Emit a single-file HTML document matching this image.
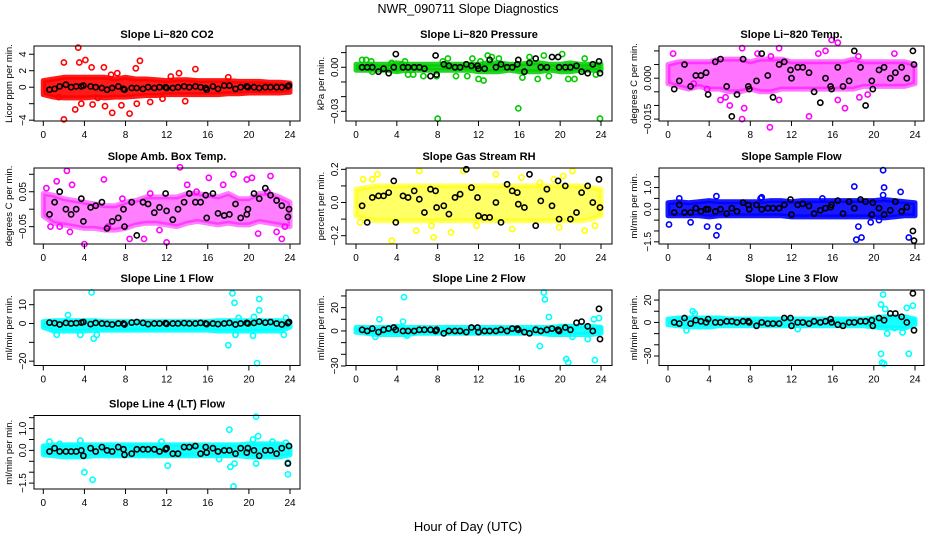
<!DOCTYPE html>
<html><head><meta charset="utf-8">
<style>
html,body{margin:0;padding:0;background:#fff;}
svg{display:block;font-family:"Liberation Sans",sans-serif;}
</style></head>
<body>
<svg id="chart" width="936" height="540" viewBox="0 0 936 540">
<text x="468" y="13" text-anchor="middle" font-size="12.5">NWR_090711  Slope Diagnostics</text>
<text x="468" y="531" text-anchor="middle" font-size="13">Hour of Day (UTC)</text>
</svg>
<script>
// shared x positions for black (hourly summary) points
const blackX = [0.6,1.1,1.6,2.2,2.7,3.2,3.7,3.9,4.6,5.1,5.7,6.2,6.7,7.3,7.8,7.9,8.6,9.1,9.7,10.2,10.8,11.3,11.9,12.0,12.6,13.1,13.7,14.2,14.8,15.3,15.8,15.9,16.5,17.0,17.6,18.1,18.7,19.2,19.8,19.9,20.5,21.0,21.6,22.1,22.7,23.2,23.8,23.9];
const hours = [0,1,2,3,4,5,6,7,8,9,10,11,12,13,14,15,16,17,18,19,20,21,22,23,24];
const xTicks = [0,4,8,12,16,20,24];

const co2Black = [-0.3,-0.2,0.1,0.3,0.0,0.1,0.1,0.2,0.1,0.0,-0.1,-0.3,-0.1,0.1,-0.2,-0.3,-0.1,-0.1,-0.2,0.0,-0.1,0.0,0.0,-0.1,-0.1,0.0,0.1,0.0,0.1,0.0,-0.1,-0.3,0.1,-0.2,0.2,0.2,-0.2,0.0,0.1,0.0,0.0,-0.1,0.0,0.0,0.0,0.0,0.1,0.2];
const co2Hi = [0.8,1.0,1.2,1.2,1.2,1.2,1.2,1.0,1.2,1.0,1.0,0.9,0.8,0.9,0.9,0.8,0.8,0.8,0.8,0.7,0.7,0.7,0.6,0.6,0.5];
const co2Lo = [-0.9,-1.2,-1.3,-1.3,-1.3,-1.2,-1.3,-1.2,-1.2,-1.1,-1.0,-1.0,-0.9,-0.9,-0.9,-0.9,-0.9,-0.9,-0.8,-0.8,-0.7,-0.7,-0.7,-0.7,-0.6];
const co2Out = [[2,3],[3.4,4.8],[3.5,3],[4.1,3.3],[4.7,2.4],[5.9,2.4],[9.4,3.2],[9,2.3],[14.8,2.2],[13.2,1.7],[2,-3.9],[3.1,-2.7],[3.7,-2],[6,-2.3],[6.7,-3.1],[7.6,-2.2],[8.4,-3.2],[9.1,-2],[10.4,-1.8],[13.8,-1.7],[4.8,-2.1],[11.6,-1.4],[1.5,-1.2],[5.3,-1.3],[7.2,1.7],[6.6,1.5],[12.4,1.3],[18,1.2]];

const presBlack = [0,0,0,-0.003,-0.001,-0.004,0,0.009,0,0,0,0,-0.001,-0.006,0.008,-0.005,0.002,0.001,0,0,0.002,0.001,0.001,-0.001,-0.001,0.005,0,0.002,0,0,0.002,0.005,-0.003,0.003,0.006,0,0,0.007,0.007,0,0,0,0.001,-0.003,-0.004,0.002,0.004,-0.004];
const presHi = [0.002,0.002,0.002,0.002,0.003,0.002,0.002,0.002,0.002,0.002,0.002,0.002,0.002,0.003,0.003,0.002,0.002,0.003,0.003,0.002,0.002,0.003,0.002,0.002,0.002];
const presLo = [-0.002,-0.002,-0.002,-0.002,-0.003,-0.002,-0.002,-0.002,-0.002,-0.002,-0.002,-0.002,-0.003,-0.003,-0.003,-0.002,-0.003,-0.003,-0.003,-0.002,-0.003,-0.003,-0.002,-0.002,-0.002];
const presOut = [[0.6,0.005],[1,0.005],[1.5,0.004],[3.5,0.003],[4.5,0.002],[5.1,-0.005],[5.6,-0.005],[6.6,-0.006],[8,-0.035],[8.5,0.004],[9,0.006],[9.8,-0.006],[10.9,-0.006],[11.4,0.006],[12,-0.008],[12.5,-0.009],[12.9,0.008],[13.3,0.007],[14,0.006],[15.9,-0.028],[16.3,-0.007],[17,0.007],[17.8,-0.008],[18.4,0.008],[18.9,-0.006],[20.2,0.009],[20.8,-0.008],[21.4,-0.008],[22.4,0.006],[23.5,-0.005],[23.9,-0.035],[1.6,-0.003],[4.8,0.004],[7.9,-0.006],[12.2,0.004]];

const tempBlack = [-0.004,-0.001,0.005,-0.003,0.001,0.001,0.002,-0.006,0.006,0.007,-0.003,-0.014,-0.006,0.007,-0.003,-0.004,-0.001,0.009,0.001,-0.007,0.005,0.006,0.003,0.0,0.004,0.004,0.002,-0.005,-0.009,0.0,-0.003,-0.004,0.004,-0.003,-0.001,0.01,0.004,-0.01,-0.001,-0.004,0.003,0.004,0.0,0.002,0.004,0.0,0.01,0.005];
const tempHi = [0.005,0.006,0.006,0.006,0.006,0.007,0.007,0.007,0.006,0.007,0.007,0.007,0.006,0.006,0.006,0.006,0.006,0.006,0.007,0.006,0.006,0.006,0.006,0.006,0.005];
const tempLo = [-0.002,-0.003,-0.004,-0.003,-0.004,-0.004,-0.005,-0.005,-0.004,-0.005,-0.005,-0.004,-0.004,-0.004,-0.004,-0.004,-0.004,-0.004,-0.004,-0.003,-0.003,-0.003,-0.003,-0.003,-0.002];
const tempOut = [[0.5,0.009],[7.2,0.011],[8.7,0.009],[10,0.008],[10.8,0.011],[14.6,0.009],[15.3,0.01],[15.9,0.014],[16.5,0.013],[18.5,0.008],[22,0.009],[5.1,-0.008],[5.6,-0.007],[6,-0.01],[7.2,-0.015],[7.4,-0.011],[9.9,-0.018],[10.8,-0.008],[13.7,-0.014],[17.2,-0.011],[16.5,-0.008],[18.6,-0.007],[19.4,-0.006],[3.8,-0.004],[2.5,-0.002]];

const ambBlack = [-0.015,0.02,0.05,0.0,-0.015,0.0,0.03,-0.035,0.005,0.01,0.02,-0.055,-0.035,-0.025,0.0,-0.05,0.02,-0.075,0.02,0.015,-0.01,0.005,0.045,-0.005,-0.03,0.0,0.02,0.045,0.02,0.02,0.04,-0.025,0.045,-0.012,-0.018,-0.015,0.015,-0.025,-0.015,0.0,0.045,0.03,0.06,0.04,0.025,0.01,-0.022,0.0];
const ambHi = [0.045,0.04,0.03,0.025,0.02,0.015,0.01,0.01,0.02,0.025,0.035,0.035,0.035,0.035,0.045,0.045,0.04,0.035,0.045,0.03,0.03,0.045,0.045,0.035,0.02];
const ambLo = [-0.02,-0.04,-0.045,-0.05,-0.055,-0.055,-0.06,-0.06,-0.055,-0.045,-0.04,-0.04,-0.045,-0.05,-0.04,-0.035,-0.04,-0.045,-0.04,-0.045,-0.045,-0.035,-0.04,-0.045,-0.05];
const ambOut = [[0.3,0.06],[1.3,0.08],[2.3,0.11],[2.8,0.07],[4,-0.1],[5.9,0.085],[8.4,-0.085],[9.8,-0.085],[12,-0.095],[13.3,0.12],[14,0.07],[16.1,0.09],[18.5,0.1],[19.8,0.085],[20.3,0.09],[20.9,-0.07],[22.1,0.095],[23.2,-0.085],[2.6,-0.065],[1.6,-0.05],[6.3,-0.05],[11.3,-0.06],[17.5,0.07],[21.8,0.05],[22.7,-0.065],[23.5,-0.05],[0.7,-0.05],[10.4,0.045],[14.9,0.05],[7.7,0.03]];

const rhBlack = [-0.02,-0.12,0.03,0.04,0.04,0.06,0.13,-0.12,0.04,0.03,0.07,0.02,-0.06,0.08,0.07,-0.03,-0.02,-0.07,0.03,0.05,0.2,0.09,0.03,-0.08,-0.09,-0.09,0.0,-0.12,0.11,0.07,0.06,-0.01,-0.03,0.17,-0.14,0.01,0.08,-0.02,0.13,-0.1,0.1,-0.1,-0.06,0.06,0.1,0.0,0.14,-0.03];
const rhHi = [0.08,0.09,0.1,0.1,0.1,0.1,0.1,0.1,0.1,0.1,0.1,0.1,0.1,0.1,0.1,0.1,0.1,0.1,0.1,0.1,0.1,0.1,0.1,0.09,0.08];
const rhLo = [-0.08,-0.1,-0.11,-0.11,-0.11,-0.11,-0.11,-0.11,-0.11,-0.11,-0.11,-0.11,-0.11,-0.11,-0.11,-0.11,-0.11,-0.11,-0.11,-0.11,-0.11,-0.11,-0.11,-0.1,-0.08];
const rhOut = [[2.1,0.17],[3.5,-0.23],[5.9,-0.17],[6.2,0.19],[7.6,-0.21],[7.4,-0.14],[10.5,0.19],[11.8,-0.14],[13.7,0.17],[15.3,-0.16],[16.2,0.15],[18,0.12],[19.9,-0.15],[21.2,0.19],[22.4,-0.17],[23.4,-0.14],[0.7,0.14],[0.4,-0.12],[1.6,0.14],[9.3,-0.18],[19.4,0.14],[20.3,0.16]];

const sfBlack = [-0.15,0.2,-0.15,-0.15,0.05,-0.1,0.0,0.0,-0.1,0.0,-0.2,0.05,-0.1,0.3,0.2,0.0,0.2,0.0,0.05,0.05,0.05,0.2,0.45,-0.25,0.2,0.25,0.15,-0.2,-0.05,0.05,0.1,0.2,0.4,-0.2,0.35,0.05,0.45,0.35,-0.25,0.3,0.05,-0.25,-0.05,0.35,-0.1,0.1,-1.0,-1.45];
const sfHi = [0.3,0.35,0.3,0.35,0.4,0.35,0.35,0.35,0.35,0.35,0.4,0.4,0.35,0.4,0.4,0.4,0.4,0.4,0.4,0.4,0.4,0.45,0.4,0.35,0.3];
const sfLo = [-0.3,-0.3,-0.3,-0.3,-0.35,-0.3,-0.3,-0.3,-0.3,-0.3,-0.3,-0.3,-0.35,-0.35,-0.35,-0.35,-0.35,-0.35,-0.35,-0.35,-0.35,-0.4,-0.35,-0.3,-0.3];
const sfOut = [[0.1,-0.7],[1.1,0.5],[3.8,-0.8],[4.7,0.6],[4.7,-1.2],[4.9,-0.8],[9,0.5],[9.1,0.55],[18.1,1.05],[18.3,-1.4],[18.8,-1.3],[18.5,-0.8],[20.9,1.8],[21,1.0],[20.9,0.65],[22.6,0.8],[23.4,-1.3],[2.2,-0.6],[15,0.5],[19.7,-0.6],[20.5,-0.5]];

const l1Black = [0.5,0.2,-0.5,0.3,0.0,0.2,0.5,0.8,-0.3,0.3,0.0,-0.2,-0.5,0.0,0.0,-0.5,0.5,0.8,0.3,-0.3,0.0,0.0,0.2,-0.2,0.0,0.0,0.2,0.0,0.0,0.3,0.0,-0.3,0.0,-0.3,0.0,0.3,-0.5,0.0,0.3,0.0,0.3,1.0,0.5,0.8,0.0,-0.5,0.2,0.8];
const l1Hi = [1,1.5,1.5,1.5,1.5,1.5,1,1,1,1,1,1,1,1,1,1,1,1.5,1.5,1.5,1.5,1.5,1.5,1.5,1];
const l1Lo = [-2,-4,-4,-4,-4,-3.5,-3.5,-3.5,-3.5,-3.5,-3.5,-3.5,-3.5,-3.5,-3.5,-3.5,-3.5,-4,-4,-4,-4,-4,-4,-4,-2];
const l1Out = [[4.7,16.5],[4.9,-8],[5.2,-6],[18,-11.5],[18.4,16],[18.6,11],[18.7,-6],[19,3],[20.5,3.5],[20.8,-21],[21,7],[21,13],[23.6,3],[23.4,-6],[2.4,4.5],[1.3,-6],[3.6,-6],[20.4,-6.5]];

const l2Black = [1,0,2,-1,1,2,3,1,0,0,0,1,1,1,0,1,-2,0,0,0,-1,3,3,-1,0,0,0,1,0,2,2,1,-1,-2,1,0,1,2,1,0,3,1,7,8,4,0,19,-7];
const l2Hi = [3,3,3,3,4,3,3,3,3,3,3,3,3,3,3,3,3,3,3,3,4,4,4,4,3];
const l2Lo = [-1,-2,-3,-3,-3,-3,-2,-2,-2,-2,-2,-2,-2,-2,-2,-2,-2,-2,-2,-3,-3,-3,-3,-3,-2];
const l2Out = [[2.3,10],[4.7,29],[5.0,-4],[18,-13],[18.4,33],[18.5,27],[18.9,12],[20.6,-24],[20.8,-27],[23.4,-25],[22.7,-7],[23.3,10],[4.6,8],[1.9,-5],[21.2,-5],[23.8,11],[23.8,2]];

const l3Black = [0,-1,4,-1,2,1,0,3,0,0,1,1,0,1,1,0,-3,0,-1,-1,-1,4,4,-3,0,0,-1,1,0,1,3,0,-2,-3,0,0,1,1,2,-3,4,2,8,8,5,0,26,-7];
const l3Hi = [3,4,4,4,4,4,3,3,3,3,3,3,3,3,3,3,3,3,3,3,4,5,5,5,3];
const l3Lo = [-2,-3,-4,-4,-4,-3,-3,-3,-3,-3,-3,-3,-3,-3,-3,-3,-3,-3,-3,-3,-4,-5,-5,-5,-2];
const l3Out = [[2.4,10],[2.6,8],[20.7,16],[20.9,25],[21.1,12],[21.3,-10],[20.7,-28],[20.8,-36],[21,-37],[23.4,-28],[22.8,-9],[23.2,13],[1.8,-7],[12.6,-6],[22,-5],[23.8,15],[23.8,1]];

const l4Black = [-0.05,0.1,-0.05,-0.05,-0.05,-0.05,0.0,-0.25,0.1,-0.05,0.15,0.0,-0.05,0.15,0.05,-0.2,-0.15,0.05,0.05,0.05,0.05,-0.05,0.05,0.1,-0.15,-0.15,0.15,0.15,0.2,-0.15,0.15,-0.1,0.1,-0.05,0.0,0.0,-0.15,0.1,-0.1,0.1,0.0,-0.25,0.0,0.0,-0.15,0.1,-0.6,0.2];
const l4Hi = [0.2,0.25,0.25,0.25,0.25,0.25,0.25,0.25,0.25,0.25,0.25,0.25,0.25,0.25,0.25,0.25,0.25,0.25,0.25,0.25,0.3,0.3,0.3,0.3,0.2];
const l4Lo = [-0.2,-0.25,-0.3,-0.3,-0.3,-0.25,-0.25,-0.25,-0.25,-0.25,-0.25,-0.25,-0.25,-0.25,-0.25,-0.25,-0.25,-0.25,-0.25,-0.25,-0.3,-0.3,-0.3,-0.3,-0.2];
const l4Out = [[0.6,0.4],[3.6,0.45],[4,-1.0],[4.8,-1.35],[12.1,-0.7],[18.1,0.95],[18.2,-0.75],[18.5,-1.65],[18.6,-0.6],[20.4,0.5],[20.7,1.55],[20.9,0.65],[20.7,-0.6],[22.3,0.4],[23.6,0.35],[11.5,0.4],[17.1,-0.4],[1.6,0.3],[23.8,-0.55],[23.8,-1.1]];

const svg = document.getElementById('chart');
const NS = 'http://www.w3.org/2000/svg';
function mk(tag, attrs, parent){
  const e = document.createElementNS(NS, tag);
  for (const k in attrs) e.setAttribute(k, attrs[k]);
  (parent||svg).appendChild(e);
  return e;
}

function panel(p, black, hi, lo, out){
  const g = mk('g', {});
  
  
  const sx = v => p.x0 + (v - 0) / 24 * (p.x24 - p.x0);
  const sy = v => p.top + (p.ymax - v) / (p.ymax - p.ymin) * (p.bot - p.top);
  let d = '';
  hours.forEach((h,i)=>{ d += (i?'L':'M') + sx(h).toFixed(1) + ',' + sy(hi[i]).toFixed(1); });
  for (let i = hours.length-1; i >= 0; i--) d += 'L' + sx(hours[i]).toFixed(1) + ',' + sy(lo[i]).toFixed(1);
  d += 'Z';
  const band = mk('path', {d:d, fill:p.color, 'fill-opacity':p.op, stroke:p.color, 'stroke-opacity':p.op, 'stroke-width':5, 'stroke-linejoin':'round'}, g);
  
  
  out.forEach(o=>{
    const c = mk('circle', {cx:sx(o[0]).toFixed(1), cy:sy(o[1]).toFixed(1), r:2.6, fill:'none', stroke:p.color, 'stroke-width':1.6}, g);
    
    
  });
  black.forEach((v,i)=>{
    const c = mk('circle', {cx:sx(blackX[i]).toFixed(1), cy:sy(v).toFixed(1), r:2.6, fill:'none', stroke:'#000', 'stroke-width':1.6}, g);
    
    
  });
  const box = mk('rect', {x:p.left, y:p.top, width:p.right-p.left, height:p.bot-p.top, fill:'none', stroke:'#000', 'stroke-width':1}, g);
  
  
  xTicks.forEach(t=>{
    const X = sx(t);
    mk('line', {x1:X, x2:X, y1:p.bot, y2:p.bot+5, stroke:'#000'}, g);
    const tx = mk('text', {x:X, y:p.bot+17, 'text-anchor':'middle', 'font-size':10}, g);
    tx.textContent = t;
    
    
  });
  p.yt.forEach(t=>{
    const Y = sy(t);
    mk('line', {x1:p.left-5, x2:p.left, y1:Y, y2:Y, stroke:'#000'}, g);
  });
  p.yl.forEach(l=>{
    const Y = sy(parseFloat(l));
    const tx = mk('text', {x:0, y:0, 'text-anchor':'middle', 'font-size':10, transform:`translate(${p.left-8},${Y}) rotate(-90)`}, g);
    tx.textContent = l.replace('-', '\u2212');
    
    
  });
  const yt = mk('text', {x:0, y:0, 'text-anchor':'middle', 'font-size':9.5, transform:`translate(${p.left-22},${(p.top+p.bot)/2}) rotate(-90)`}, g);
  yt.textContent = p.ylab;
  
  
  const tt = mk('text', {x:(p.left+p.right)/2, y:p.top-8, 'text-anchor':'middle', 'font-size':11, 'font-weight':'bold'}, g);
  tt.textContent = p.title;
  
  
}

const C1 = {left:34, right:300, x0:43.3, x24:290};
const C2 = {left:346, right:612, x0:356, x24:601};
const C3 = {left:659, right:924, x0:668, x24:915};
const R1 = {top:46, bot:121}, R2 = {top:168, bot:244}, R3 = {top:290, bot:365.5}, R4 = {top:415.5, bot:489};

panel(Object.assign({name:'panel-co2', title:'Slope Li\u2212820 CO2', ylab:'Licor ppm per min.', color:'#ff0000', op:0.9, ymin:-4.1, ymax:5.0, yt:[-4,-2,0,2,4], yl:['-4','0','2','4']}, C1, R1), co2Black, co2Hi, co2Lo, co2Out);
panel(Object.assign({name:'panel-pressure', title:'Slope Li\u2212820 Pressure', ylab:'kPa per min.', color:'#00cc00', op:0.85, ymin:-0.0366, ymax:0.0145, yt:[0.01,0,-0.01,-0.02,-0.03], yl:['0.00','-0.03']}, C2, R1), presBlack, presHi, presLo, presOut);
panel(Object.assign({name:'panel-temp', title:'Slope Li\u2212820 Temp.', ylab:'degrees C per min.', color:'#ff00ff', op:0.55, ymin:-0.0157, ymax:0.0118, yt:[0.01,0.005,0,-0.005,-0.01,-0.015], yl:['0.000','-0.015']}, C3, R1), tempBlack, tempHi, tempLo, tempOut);
panel(Object.assign({name:'panel-amb-box-temp', title:'Slope Amb. Box Temp.', ylab:'degrees C per min.', color:'#ff00ff', op:0.5, ymin:-0.0997, ymax:0.118, yt:[0.1,0.05,0,-0.05], yl:['0.05','-0.05']}, C1, R2), ambBlack, ambHi, ambLo, ambOut);
panel(Object.assign({name:'panel-gas-stream-rh', title:'Slope Gas Stream RH', ylab:'percent per min.', color:'#ffff00', op:0.6, ymin:-0.25, ymax:0.208, yt:[0.2,0.1,0,-0.1,-0.2], yl:['0.2','0.0','-0.2']}, C2, R2), rhBlack, rhHi, rhLo, rhOut);
panel(Object.assign({name:'panel-sample-flow', title:'Slope Sample Flow', ylab:'ml/min per min.', color:'#0000ff', op:0.9, ymin:-1.6, ymax:1.9, yt:[1.5,1,0.5,0,-0.5,-1,-1.5], yl:['1.0','0.0','-1.5']}, C3, R2), sfBlack, sfHi, sfLo, sfOut);
panel(Object.assign({name:'panel-line1-flow', title:'Slope Line 1 Flow', ylab:'ml/min per min.', color:'#00ffff', op:0.9, ymin:-22.3, ymax:17.8, yt:[10,0,-10,-20], yl:['10','0','-20']}, C1, R3), l1Black, l1Hi, l1Lo, l1Out);
panel(Object.assign({name:'panel-line2-flow', title:'Slope Line 2 Flow', ylab:'ml/min per min.', color:'#00ffff', op:0.9, ymin:-29.6, ymax:35.1, yt:[30,20,10,0,-10,-20,-30], yl:['20','0','-30']}, C2, R3), l2Black, l2Hi, l2Lo, l2Out);
panel(Object.assign({name:'panel-line3-flow', title:'Slope Line 3 Flow', ylab:'ml/min per min.', color:'#00ffff', op:0.9, ymin:-38.5, ymax:29, yt:[20,10,0,-10,-20,-30], yl:['20','0','-30']}, C3, R3), l3Black, l3Hi, l3Lo, l3Out);
panel(Object.assign({name:'panel-line4-flow', title:'Slope Line 4 (LT) Flow', ylab:'ml/min per min.', color:'#00ffff', op:0.9, ymin:-1.77, ymax:1.6, yt:[1.5,1,0.5,0,-0.5,-1,-1.5], yl:['1.0','0.0','-1.5']}, C1, R4), l4Black, l4Hi, l4Lo, l4Out);
</script>
</body></html>
